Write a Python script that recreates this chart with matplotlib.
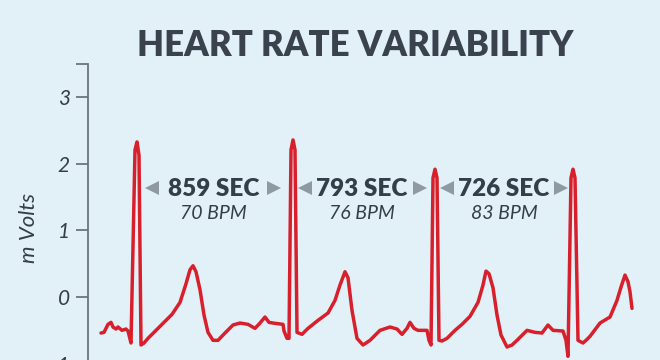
import matplotlib
matplotlib.use('Agg')
import matplotlib.pyplot as plt

# ── Data ─────────────────────────────────────────────────────
time_ms = [65, 80, 100, 115, 125, 140, 150, 170, 190, 200, 215, 235, 245, 255, 265,
           280, 300, 360, 420, 460, 490, 510, 525, 540, 560, 580, 600, 625, 650, 685,
           725, 760, 800, 835, 860, 885, 905, 925, 975, 980, 995, 1005, 1015, 1025, 1035,
           1045, 1070, 1100, 1150, 1200, 1235, 1260, 1285, 1300, 1320, 1345, 1375, 1410,
           1460, 1510, 1545, 1570, 1595, 1610, 1630, 1650, 1695, 1705, 1715, 1725, 1735,
           1745, 1755, 1770, 1795, 1835, 1870, 1910, 1950, 1975, 1990, 2005, 2025, 2045,
           2065, 2095, 2120, 2145, 2195, 2235, 2270, 2300, 2325, 2375, 2390, 2400, 2415,
           2425, 2435, 2450, 2475, 2490, 2510, 2560, 2610, 2645, 2665, 2685, 2700, 2710,
           2720]
millivolts = [-0.54, -0.53, -0.41, -0.38, -0.45, -0.48, -0.45, -0.50, -0.48, -0.51, -0.69,
              2.21, 2.33, 2.13, -0.72, -0.69, -0.62, -0.44, -0.26, -0.08, 0.20, 0.41, 0.47,
              0.38, 0.11, -0.27, -0.53, -0.65, -0.65, -0.54, -0.42, -0.39, -0.41, -0.47,
              -0.39, -0.30, -0.38, -0.39, -0.41, -0.51, -0.62, -0.62, 2.21, 2.36, 2.21,
              -0.53, -0.56, -0.47, -0.35, -0.24, -0.05, 0.18, 0.38, 0.29, -0.20, -0.62,
              -0.72, -0.65, -0.50, -0.45, -0.48, -0.56, -0.47, -0.38, -0.47, -0.50, -0.50,
              -0.65, -0.72, 1.79, 1.92, 1.79, -0.65, -0.66, -0.62, -0.50, -0.41, -0.29,
              -0.08, 0.18, 0.39, 0.35, 0.14, -0.27, -0.57, -0.75, -0.72, -0.65, -0.50,
              -0.53, -0.54, -0.42, -0.50, -0.51, -0.65, -0.89, 1.79, 1.92, 1.79, -0.65,
              -0.69, -0.65, -0.59, -0.39, -0.30, -0.05, 0.15, 0.33, 0.23, 0.08, -0.17]

interval_labels = ['859 SEC', '793 SEC', '726 SEC']
bpm_labels = ['70 BPM', '76 BPM', '83 BPM']
y_ticks = [-1, 0, 1, 2, 3]

# ── Style ────────────────────────────────────────────────────
BG = '#e2f0f8'
RED = '#d8202c'
DARK = '#343e48'
GREY = '#8e99a2'
SPINE = '#6a7580'

plt.rcParams['font.family'] = ['Lato', 'DejaVu Sans']

fig = plt.figure(figsize=(6.6, 3.6), dpi=100, facecolor=BG)
ax = fig.add_axes([88 / 660, -0.0656, 1 - 88 / 660, 0.8878])
ax.set_facecolor(BG)

ax.plot(time_ms, millivolts, color=RED, linewidth=2.5, solid_joinstyle='round',
        solid_capstyle='round')

ax.set_xlim(0, 2860)
ax.set_ylim(-1.3, 3.5)

# y axis only
for side in ['top', 'right', 'bottom']:
    ax.spines[side].set_visible(False)
ax.spines['left'].set_color(SPINE)
ax.spines['left'].set_linewidth(1.3)
ax.set_xticks([])
ax.set_yticks(y_ticks + [3.5])
ax.set_yticklabels([str(v) for v in y_ticks] + [''])
ax.tick_params(axis='y', length=9, width=1.3, color=SPINE, pad=4,
               labelsize=15, labelcolor=DARK)
for lbl in ax.get_yticklabels():
    lbl.set_fontstyle('italic')

fig.text(29 / 660, 1 - 228 / 360, 'm Volts', rotation=90, ha='center', va='center',
         fontsize=16, fontstyle='italic', color=DARK)

# interval annotations
centers = [627, 1370, 2080]
left_tri = [318, 1083, 1797]
right_tri = [932, 1662, 2363]
for c, lt, rt, lab, bpm in zip(centers, left_tri, right_tri, interval_labels, bpm_labels):
    ax.text(c, 1.62, lab, ha='center', va='center', fontsize=17.5, fontweight='heavy',
            color=DARK)
    ax.text(c, 1.25, bpm, ha='center', va='center', fontsize=14, fontstyle='italic',
            color=DARK)
    ax.plot([lt], [1.64], marker='<', markersize=10, color=GREY, markeredgewidth=0)
    ax.plot([rt], [1.64], marker='>', markersize=10, color=GREY, markeredgewidth=0)

fig.text(0.5 + 25 / 660, 1 - 46 / 360, 'HEART RATE VARIABILITY', ha='center', va='center',
         fontsize=25, fontweight='heavy', color='#3a434d')

fig.savefig('out.png', dpi=100, facecolor=BG)
